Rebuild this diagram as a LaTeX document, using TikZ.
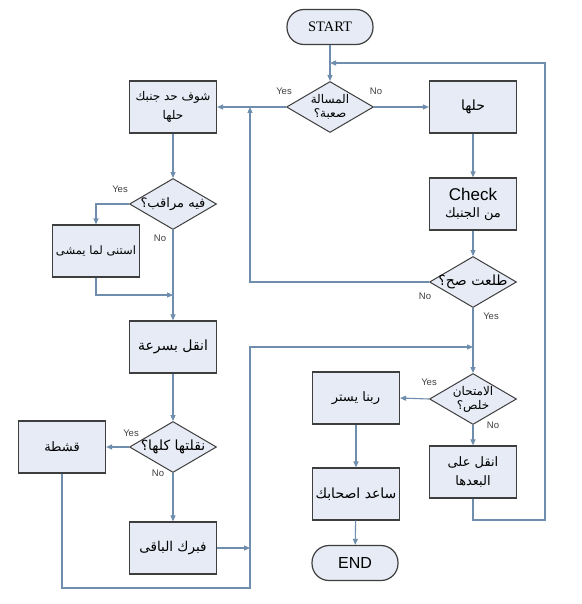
\documentclass[tikz,border=0pt]{standalone}
\usepackage{fontspec}
\setmainfont{Liberation Sans}
\newfontfamily\arabicfont[Script=Arabic]{DejaVu Sans}
\newfontfamily\timesfont{Liberation Serif}
\TeXXeTstate=1
\usetikzlibrary{shapes.geometric,arrows.meta}
\newcommand{\ar}[1]{{\arabicfont\beginR #1\endR}}
\newcommand{\zb}[1]{\makebox[0pt]{#1}}
\newcommand{\two}[2]{\zb{\begin{tabular}{@{}c@{}}\ar{#1}\\[-2pt]\ar{#2}\end{tabular}}}
\definecolor{boxfill}{HTML}{E6EBF5}
\definecolor{boxline}{HTML}{3E3E3E}
\definecolor{conn}{HTML}{6F8EAD}
\tikzset{
  procbox/.style={rectangle, draw=boxline, fill=boxfill, line width=1.2pt,
    minimum width=87pt, minimum height=52pt, inner sep=1pt, align=center,
    font=\fontsize{13}{18}\selectfont},
  decbox/.style={diamond, draw=boxline, fill=boxfill, line width=1pt,
    minimum width=87pt, minimum height=51pt, inner sep=0pt, aspect=1.7,
    font=\fontsize{12}{16}\selectfont},
  termbox/.style={rectangle, rounded corners=17pt, draw=boxline, fill=boxfill,
    line width=1.2pt, minimum width=86pt, minimum height=35pt, inner sep=0pt},
  arr/.style={draw=conn, line width=1.1pt, -{Triangle[width=5pt,length=6pt,fill=conn]}},
  yn/.style={font=\fontsize{9.5}{10}\selectfont, text=black!75, inner sep=0pt}
}
\begin{document}
\begin{tikzpicture}[x=1pt,y=-1pt]
\useasboundingbox (0,0) rectangle (581,604);
\fill[white] (0,0) rectangle (581,604);

% nodes
\node[termbox, font=\timesfont\fontsize{14.5}{16}\selectfont] (start) at (330,27) {START};
\node[decbox] (d1) at (330,107) {\two{المسالة}{صعبة؟}};
\node[procbox, font=\fontsize{14}{18}\selectfont] (solve) at (473,107) {\ar{حلها}};
\node[procbox] (check) at (473,204) {{\fontsize{17}{19}\selectfont Check}\\[-1pt]\ar{من الجنبك}};
\node[decbox, font=\fontsize{14}{16}\selectfont] (d2) at (473,282) {\zb{\ar{طلعت صح؟}}};
\node[decbox] (d3) at (473,399) {\two{الامتحان}{خلص؟}};
\node[procbox] (pray) at (356,398) {\ar{ربنا يستر}};
\node[procbox, font=\fontsize{14}{18}\selectfont] (help) at (356,494) {\ar{ساعد اصحابك}};
\node[termbox, font=\fontsize{16}{18}\selectfont] (end) at (355,563) {END};
\node[procbox, font=\fontsize{13}{19}\selectfont] (copyrest) at (473,472) {\ar{انقل على}\\\ar{البعدها}};

\node[procbox, font=\fontsize{12}{19}\selectfont] (look) at (173,107) {\ar{شوف حد جنبك}\\\ar{حلها}};
\node[decbox, font=\fontsize{13}{16}\selectfont] (d4) at (173,204) {\zb{\ar{فيه مراقب؟}}};
\node[procbox, font=\fontsize{11.5}{18}\selectfont] (wait) at (96,251) {\ar{استنى لما يمشى}};
\node[procbox, font=\fontsize{14}{18}\selectfont] (fast) at (173,347) {\ar{انقل بسرعة}};
\node[decbox, font=\fontsize{14}{16}\selectfont] (d5) at (173,447) {\zb{\ar{نقلتها كلها؟}}};
\node[procbox] (cool) at (62,447) {\ar{قشطة}};
\node[procbox, font=\fontsize{13.5}{18}\selectfont] (fake) at (173,548) {\ar{فبرك الباقى}};

% junction coordinates
\coordinate (j1) at (250,107);
\coordinate (j2) at (173,295);
\coordinate (j3) at (250,548);
\coordinate (lb) at (250,588);
\coordinate (j4) at (473,347);
\coordinate (rb) at (545,520);
\coordinate (j0) at (330,63);

% connectors
\draw[arr] (start) -- (d1.north);
\draw[arr] (d1.west) -- (look.east);
\draw[arr] (d1.east) -- (solve.west);
\draw[arr] (solve) -- (check);
\draw[arr] (check) -- (d2.north);
\draw[arr] (d2.west) -| (j1);
\draw[arr] (d2.south) -- (d3.north);
\draw[arr] (d3.west) -- (pray.east);
\draw[arr] (d3.south) -- (copyrest.north);
\draw[arr] (pray) -- (help);
\draw[arr] (help) -- (end);
\draw[arr] (copyrest.south) |- (rb) |- (j0);

\draw[arr] (look) -- (d4.north);
\draw[arr] (d4.west) -| (wait.north);
\draw[arr] (wait.south) |- (j2);
\draw[arr] (d4.south) -- (fast.north);
\draw[arr] (fast) -- (d5.north);
\draw[arr] (d5.west) -- (cool.east);
\draw[arr] (d5.south) -- (fake.north);
\draw[arr] (fake.east) -- (j3);
\draw[arr] (cool.south) |- (lb) |- (j4);

% yes/no labels
\node[yn] (y1) at (284,91) {Yes};
\node[yn] (n1) at (376,91) {No};
\node[yn] (y4) at (120,189) {Yes};
\node[yn] (n4) at (160,238) {No};
\node[yn] (n2) at (425,296) {No};
\node[yn] (y2) at (491,316) {Yes};
\node[yn] (y3) at (429,382) {Yes};
\node[yn] (n3) at (493,425) {No};
\node[yn] (y5) at (131,433) {Yes};
\node[yn] (n5) at (158,473) {No};
\end{tikzpicture}
\end{document}
